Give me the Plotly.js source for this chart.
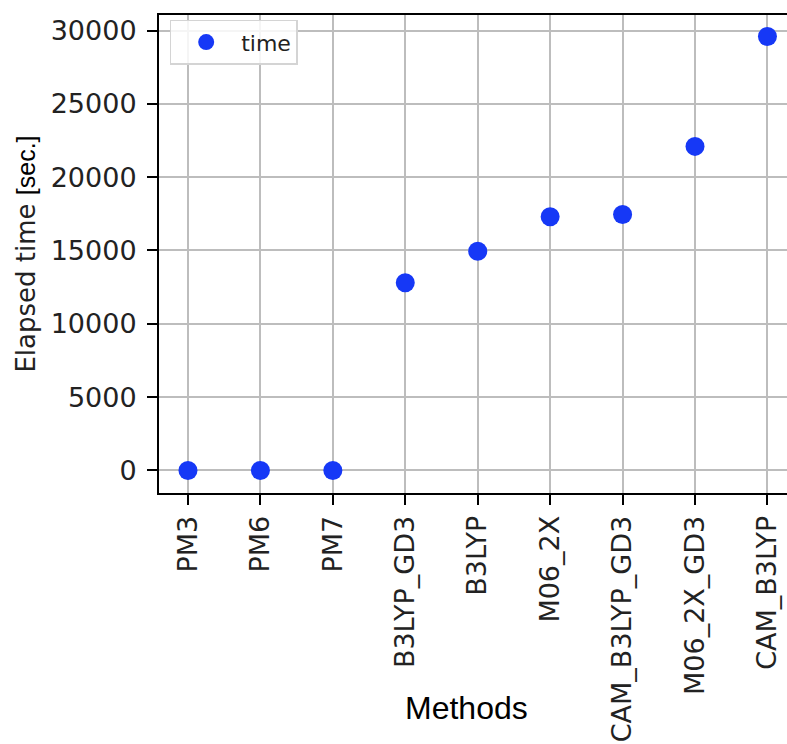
<!DOCTYPE html>
<html>
<head>
<meta charset="utf-8">
<script src="https://cdn.plot.ly/plotly-3.0.1.min.js"></script>
<style>
  html, body { margin: 0; padding: 0; background: #ffffff; }
  #chart { width: 787px; height: 744px; }
</style>
</head>
<body>
<div id="chart"></div>
<script>
// Elapsed wall time per computational method
const methods = ["PM3", "PM6", "PM7", "B3LYP_GD3", "B3LYP", "M06_2X",
                 "CAM_B3LYP_GD3", "M06_2X_GD3", "CAM_B3LYP"];
const elapsedSec = [0, 0, 0, 12800, 14950, 17300, 17450, 22100, 29600];
const yTickVals = [0, 5000, 10000, 15000, 20000, 25000, 30000];

const markerBlue = "#1638f6";
const inkColor = "#222222";
const gridColor = "#bdbdbd";

const trace = {
  type: "scatter",
  mode: "markers",
  name: "time",
  x: methods.map((_, i) => i),
  y: elapsedSec,
  marker: { color: markerBlue, size: 19, line: { width: 0 } },
  hoverinfo: "x+y"
};

const layout = {
  width: 787,
  height: 744,
  margin: { l: 159, r: 0, t: 15, b: 251, pad: 0 },
  paper_bgcolor: "#ffffff",
  plot_bgcolor: "#ffffff",
  font: { family: "DejaVu Sans", color: inkColor, size: 27 },
  showlegend: true,
  legend: {
    x: 0.017, y: 0.99, xanchor: "left", yanchor: "top",
    bgcolor: "rgba(255,255,255,0.85)",
    bordercolor: "#d4d4d4", borderwidth: 1.5,
    font: { family: "DejaVu Sans", size: 22, color: inkColor },
    itemwidth: 60
  },
  xaxis: {
    range: [-0.4, 8.27],
    tickmode: "array",
    tickvals: methods.map((_, i) => i),
    ticktext: methods,
    tickangle: -90,
    ticks: "outside", ticklen: 10, tickwidth: 2, tickcolor: "#000000",
    ticklabelstandoff: 0,
    showgrid: true, gridcolor: gridColor, gridwidth: 2,
    zeroline: false,
    showline: true, linecolor: "#000000", linewidth: 2, mirror: true,
    tickfont: { family: "DejaVu Sans", size: 27, color: inkColor }
  },
  yaxis: {
    range: [-1540, 31060],
    tickmode: "array",
    tickvals: yTickVals,
    ticktext: yTickVals.map(String),
    ticks: "outside", ticklen: 10, tickwidth: 2, tickcolor: "#000000",
    ticklabelstandoff: 5,
    showgrid: true, gridcolor: gridColor, gridwidth: 2,
    zeroline: false,
    showline: true, linecolor: "#000000", linewidth: 2, mirror: false,
    tickfont: { family: "DejaVu Sans", size: 27, color: inkColor },
    title: {
      text: 'Elapsed time <span style="font-family:Liberation Sans;font-size:25px;fill:#000000">[sec.]</span>',
      font: { family: "DejaVu Sans", size: 26, color: inkColor },
      standoff: 8
    }
  },
  annotations: [{
    // x-axis title, set just under the shorter tick labels
    text: "Methods",
    xref: "paper", yref: "paper",
    x: 0.49, y: -0.45,
    xanchor: "center", yanchor: "middle",
    showarrow: false,
    font: { family: "Liberation Sans", size: 32, color: "#000000" }
  }]
};

Plotly.newPlot("chart", [trace], layout, { staticPlot: true, displayModeBar: false });
</script>
</body>
</html>
